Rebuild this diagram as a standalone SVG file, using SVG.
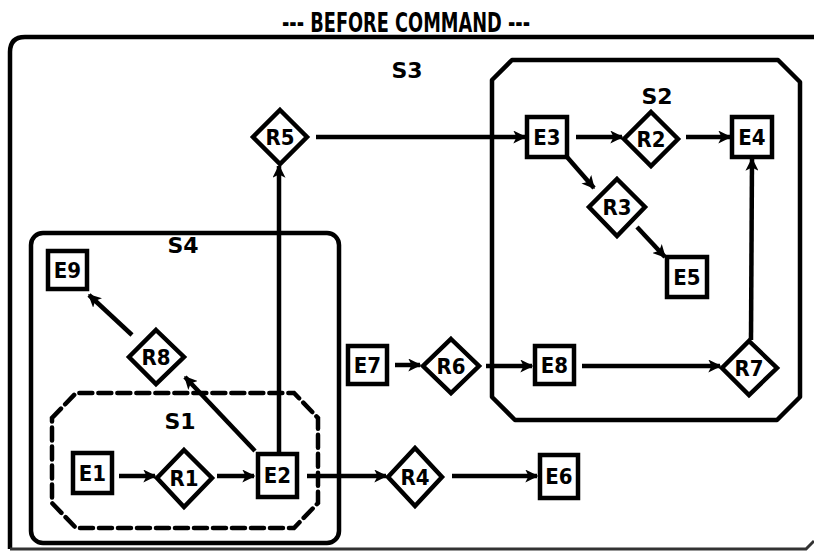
<svg xmlns="http://www.w3.org/2000/svg" width="814" height="554" viewBox="0 0 814 554">
<defs>
<marker id="ah" viewBox="0 0 10 10" refX="9" refY="5" markerWidth="13" markerHeight="13" markerUnits="userSpaceOnUse" orient="auto">
<path d="M0,0 L10,5 L0,10 L2.5,5 Z" fill="#000"/>
</marker>
<style>
.bg{fill:#fff}
.box{fill:#fff;stroke:#000;stroke-width:4.5}
.dia{fill:#fff;stroke:#000;stroke-width:4.5;stroke-linejoin:miter}
.lbl{font-family:"DejaVu Sans Condensed","DejaVu Sans",sans-serif;font-size:22px;font-weight:bold;text-anchor:middle;dominant-baseline:central;fill:#000}
.cl{font-family:"DejaVu Sans",sans-serif;font-size:22px;font-weight:bold;text-anchor:middle;dominant-baseline:central;fill:#000}
.cont{fill:none;stroke:#000;stroke-width:4.5;stroke-linejoin:round}
.dash{fill:none;stroke:#000;stroke-width:4.5;stroke-dasharray:13 6;stroke-linecap:round}
.con{fill:none;stroke:#000;stroke-width:4.5;marker-end:url(#ah)}
</style>
</defs>
<rect class="bg" x="0" y="0" width="814" height="554"/>
<text x="406" y="22" font-family="DejaVu Sans Condensed, DejaVu Sans, sans-serif" font-size="27" font-weight="bold" text-anchor="middle" dominant-baseline="central" textLength="248" lengthAdjust="spacingAndGlyphs">--- BEFORE COMMAND ---</text>

<g id="S3">
<path class="cont" d="M820,37 L25,37 Q10,37 10,52 L10,549"/>
<path fill="none" stroke="#333" stroke-width="3" d="M10,549 L806,549 L814,541"/>
<text class="cl" x="407" y="70">S3</text>
</g>
<g id="S2">
<path class="cont" d="M492,80 L512,60 L778,60 L800,82 L800,397 L777,420 L515,420 L492,397 Z"/>
<text class="cl" x="657" y="96">S2</text>
</g>
<g id="S4">
<rect class="cont" x="31" y="233" width="308" height="310" rx="12"/>
<text class="cl" x="183" y="245">S4</text>
</g>
<g id="S1">
<path class="dash" d="M52,418 L76,393 L294,393 L318,418 L318,503 L294,528 L76,528 L52,503 Z"/>
<text class="cl" x="180" y="421">S1</text>
</g>

<g id="connectors">
<line class="con" x1="279" y1="452" x2="279" y2="166"/>
<line class="con" x1="316" y1="137" x2="525" y2="137"/>
<line class="con" x1="576" y1="137" x2="622" y2="137"/>
<line class="con" x1="686" y1="137" x2="730" y2="137"/>
<line class="con" x1="567" y1="157" x2="594" y2="188"/>
<line class="con" x1="637" y1="227" x2="665" y2="257"/>
<line class="con" x1="751" y1="340" x2="752" y2="159"/>
<line class="con" x1="582" y1="366" x2="720" y2="366"/>
<line class="con" x1="486" y1="366" x2="532" y2="366"/>
<line class="con" x1="395" y1="365" x2="420" y2="365"/>
<line class="con" x1="119" y1="476" x2="155" y2="476"/>
<line class="con" x1="217" y1="476" x2="254" y2="476"/>
<line class="con" x1="307" y1="476" x2="386" y2="476"/>
<line class="con" x1="452" y1="476" x2="537" y2="476"/>
<line class="con" x1="255" y1="451" x2="185" y2="377"/>
<line class="con" x1="132" y1="335" x2="89" y2="295"/>
</g>

<g id="E1"><rect class="box" x="73" y="453" width="39" height="40"/><text class="lbl" x="92.5" y="473">E1</text></g>
<g id="R1"><path class="dia" d="M184,450 L212,478 L184,507 L157,478 Z"/><text class="lbl" x="184" y="478">R1</text></g>
<g id="E2"><rect class="box" x="258" y="454" width="39" height="43"/><text class="lbl" x="277.5" y="475">E2</text></g>
<g id="R4"><path class="dia" d="M415,448 L442,477 L415,506 L388,477 Z"/><text class="lbl" x="415" y="477">R4</text></g>
<g id="E6"><rect class="box" x="540" y="455" width="38" height="43"/><text class="lbl" x="559" y="476">E6</text></g>
<g id="R8"><path class="dia" d="M156,330 L184,357 L156,384 L129,357 Z"/><text class="lbl" x="156" y="357">R8</text></g>
<g id="E9"><rect class="box" x="48" y="251" width="39" height="38"/><text class="lbl" x="67.5" y="270">E9</text></g>
<g id="E7"><rect class="box" x="348" y="346" width="39" height="38"/><text class="lbl" x="367.5" y="365">E7</text></g>
<g id="R6"><path class="dia" d="M451,339 L479,366 L451,393 L423,366 Z"/><text class="lbl" x="451" y="366">R6</text></g>
<g id="E8"><rect class="box" x="535" y="346" width="39" height="38"/><text class="lbl" x="554.5" y="365">E8</text></g>
<g id="R7"><path class="dia" d="M749,341 L777,368 L749,395 L722,368 Z"/><text class="lbl" x="749" y="368">R7</text></g>
<g id="R5"><path class="dia" d="M280,110 L307,137 L280,164 L253,137 Z"/><text class="lbl" x="280" y="137">R5</text></g>
<g id="E3"><rect class="box" x="527" y="117" width="40" height="40"/><text class="lbl" x="547" y="137">E3</text></g>
<g id="R2"><path class="dia" d="M651,112 L678,139 L651,166 L624,139 Z"/><text class="lbl" x="651" y="139">R2</text></g>
<g id="E4"><rect class="box" x="732" y="117" width="40" height="40"/><text class="lbl" x="752" y="137">E4</text></g>
<g id="R3"><path class="dia" d="M617,179 L645,207 L617,236 L589,207 Z"/><text class="lbl" x="617" y="207">R3</text></g>
<g id="E5"><rect class="box" x="667" y="257" width="40" height="40"/><text class="lbl" x="687" y="277">E5</text></g>
</svg>
